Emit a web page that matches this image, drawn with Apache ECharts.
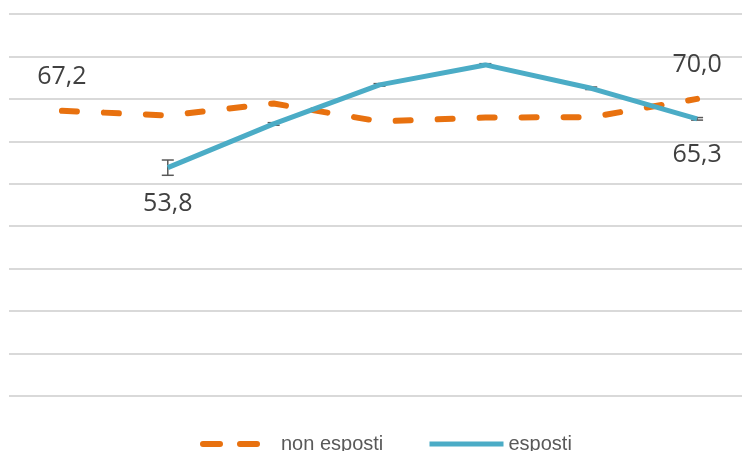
<!DOCTYPE html>
<html lang="it">
<head>
    <meta charset="UTF-8">
    <title>esposti / non esposti</title>
    <style>
        html, body { margin: 0; padding: 0; background: #fff; }
    </style>
</head>
<body>
<div id="main" style="width: 742px;height:451px;"></div>
<script src="https://cdn.jsdelivr.net/npm/echarts@6/dist/echarts.min.js"></script>
<script>
    // dati
    var categorie = ['1', '2', '3', '4', '5', '6', '7'];
    var nonEsposti = [67.2, 66.1, 68.9, 64.7, 65.6, 65.7, 70.0];
    var esposti = [null, 53.8, 64.1, 73.3, 78.0, 72.5, 65.3];
    // semiampiezza delle barre d'errore (esposti)
    var errori = [null, 1.8, 0.3, 0.3, 0.3, 0.3, 0.3];
    // punti con etichetta
    var etichetteNon = [0, 6];
    var etichetteEsp = [1, 6];

    var errData = [];
    for (var i = 0; i < esposti.length; i++) {
        if (esposti[i] != null && errori[i] != null) {
            errData.push([i, esposti[i] - errori[i], esposti[i] + errori[i]]);
        }
    }

    function fmt(v) {
        return v.toFixed(1).replace('.', ',');
    }

    function conEtichette(values, idx, offY) {
        return values.map(function (v, i) {
            if (v == null) return null;
            if (idx.indexOf(i) < 0) return v;
            return {
                value: v,
                symbol: 'circle',
                symbolSize: 0,
                label: {
                    show: true,
                    position: 'inside',
                    offset: [0, offY],
                    formatter: function (p) { return fmt(p.value); }
                }
            };
        });
    }

    var labelFont = {
        fontFamily: '"Open Sans", sans-serif',
        fontSize: 25,
        color: '#404040'
    };
    var legendFont = {
        fontFamily: '"Liberation Sans", sans-serif',
        fontSize: 20,
        color: '#595959'
    };

    var myChart = echarts.init(document.getElementById('main'));
    var option = {
        backgroundColor: '#ffffff',
        animation: false,
        grid: {left: 9, right: -8, top: 14, bottom: 55, outerBoundsMode: 'none'},
        legend: [{
            data: ['non esposti'],
            left: 195,
            top: 429,
            itemWidth: 65,
            itemHeight: 14,
            itemStyle: {opacity: 0},
            lineStyle: {width: 6, type: [17, 20], cap: 'round'},
            textStyle: Object.assign({padding: [0, 0, 0, 8]}, legendFont)
        }, {
            data: ['esposti'],
            left: 422,
            top: 429,
            itemWidth: 74,
            itemHeight: 14,
            itemStyle: {opacity: 0},
            lineStyle: {width: 5},
            textStyle: legendFont
        }],
        xAxis: {
            type: 'category',
            data: categorie,
            boundaryGap: true,
            axisLine: {show: false},
            axisTick: {show: false},
            axisLabel: {show: false}
        },
        yAxis: {
            type: 'value',
            min: 0,
            max: 90,
            interval: 10,
            axisLine: {show: false},
            axisTick: {show: false},
            axisLabel: {show: false},
            splitLine: {lineStyle: {color: '#d9d9d9', width: 2}}
        },
        series: [
            {
                name: 'non esposti',
                type: 'line',
                data: conEtichette(nonEsposti, etichetteNon, -34),
                symbol: 'none',
                label: labelFont,
                lineStyle: {
                    color: '#e8710f',
                    width: 6,
                    type: [15, 27],
                    cap: 'round'
                },
                itemStyle: {color: '#e8710f'},
                z: 2
            },
            {
                name: 'errore',
                type: 'custom',
                data: errData,
                renderItem: function (params, api) {
                    var x = api.value(0);
                    var lo = api.coord([x, api.value(1)]);
                    var hi = api.coord([x, api.value(2)]);
                    var w = 6;
                    var st = {stroke: '#595959', lineWidth: 1.5};
                    return {
                        type: 'group',
                        children: [
                            {type: 'line', shape: {x1: lo[0], y1: lo[1], x2: hi[0], y2: hi[1]}, style: st},
                            {type: 'line', shape: {x1: lo[0] - w, y1: lo[1], x2: lo[0] + w, y2: lo[1]}, style: st},
                            {type: 'line', shape: {x1: hi[0] - w, y1: hi[1], x2: hi[0] + w, y2: hi[1]}, style: st}
                        ]
                    };
                },
                z: 3
            },
            {
                name: 'esposti',
                type: 'line',
                data: conEtichette(esposti, etichetteEsp, 36),
                symbol: 'none',
                connectNulls: false,
                label: labelFont,
                lineStyle: {color: '#4bacc6', width: 5},
                itemStyle: {color: '#4bacc6'},
                z: 4
            }
        ]
    };
    myChart.setOption(option);
</script>
</body>
</html>
